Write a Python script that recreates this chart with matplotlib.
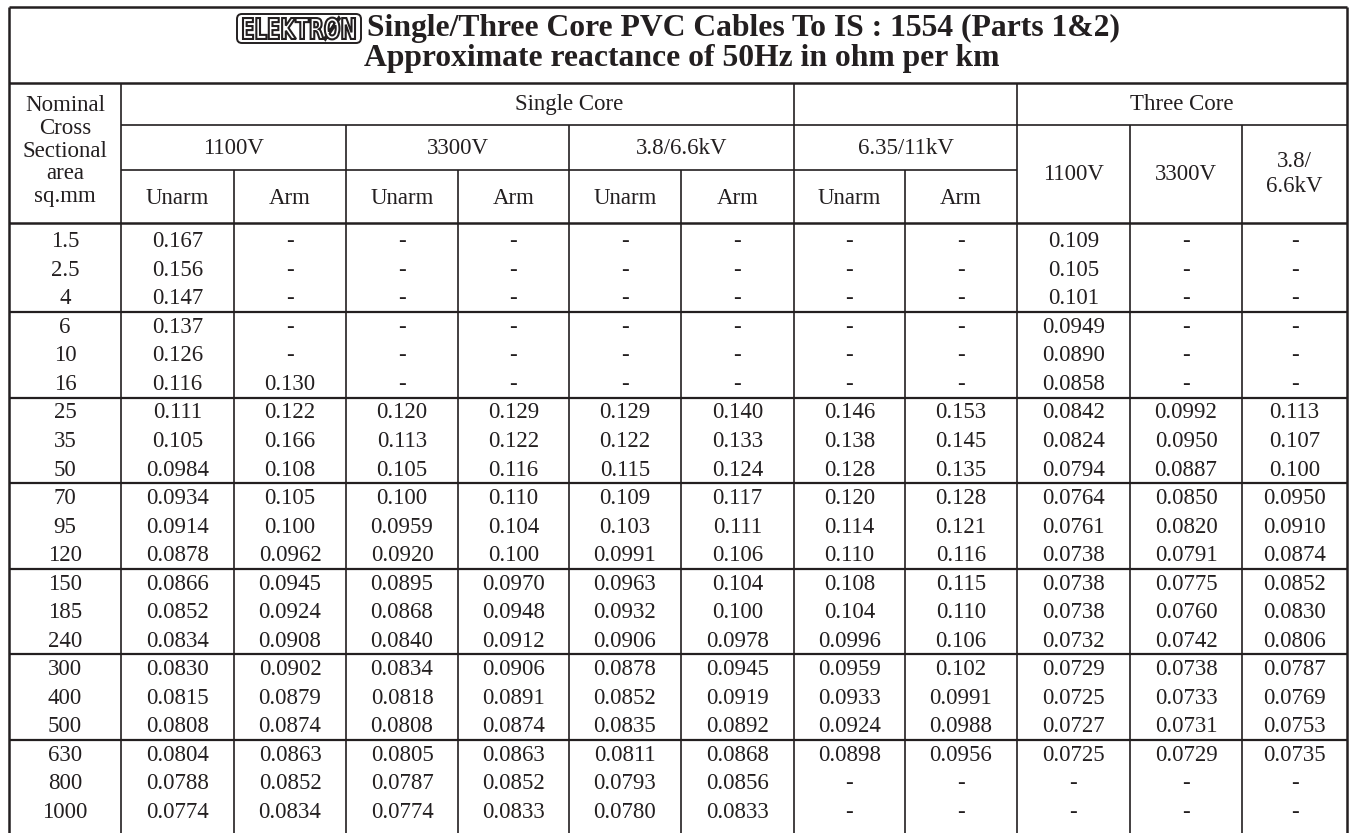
import matplotlib
matplotlib.use("Agg")
import matplotlib.pyplot as plt
from matplotlib.patches import FancyBboxPatch, PathPatch
from matplotlib.textpath import TextPath
from matplotlib.font_manager import FontProperties
from matplotlib.transforms import Affine2D

# table data (strings keep the printed trailing zeros)
areas = ["1.5", "2.5", "4", "6", "10", "16", "25", "35", "50", "70", "95", "120",
         "150", "185", "240", "300", "400", "500", "630", "800", "1000"]

sc_1100_unarm = ["0.167", "0.156", "0.147", "0.137", "0.126", "0.116", "0.111",
                 "0.105", "0.0984", "0.0934", "0.0914", "0.0878", "0.0866",
                 "0.0852", "0.0834", "0.0830", "0.0815", "0.0808", "0.0804",
                 "0.0788", "0.0774"]
sc_1100_arm = ["-", "-", "-", "-", "-", "0.130", "0.122", "0.166", "0.108",
               "0.105", "0.100", "0.0962", "0.0945", "0.0924", "0.0908",
               "0.0902", "0.0879", "0.0874", "0.0863", "0.0852", "0.0834"]
sc_3300_unarm = ["-", "-", "-", "-", "-", "-", "0.120", "0.113", "0.105",
                 "0.100", "0.0959", "0.0920", "0.0895", "0.0868", "0.0840",
                 "0.0834", "0.0818", "0.0808", "0.0805", "0.0787", "0.0774"]
sc_3300_arm = ["-", "-", "-", "-", "-", "-", "0.129", "0.122", "0.116",
               "0.110", "0.104", "0.100", "0.0970", "0.0948", "0.0912",
               "0.0906", "0.0891", "0.0874", "0.0863", "0.0852", "0.0833"]
sc_66_unarm = ["-", "-", "-", "-", "-", "-", "0.129", "0.122", "0.115",
               "0.109", "0.103", "0.0991", "0.0963", "0.0932", "0.0906",
               "0.0878", "0.0852", "0.0835", "0.0811", "0.0793", "0.0780"]
sc_66_arm = ["-", "-", "-", "-", "-", "-", "0.140", "0.133", "0.124",
             "0.117", "0.111", "0.106", "0.104", "0.100", "0.0978",
             "0.0945", "0.0919", "0.0892", "0.0868", "0.0856", "0.0833"]
sc_11_unarm = ["-", "-", "-", "-", "-", "-", "0.146", "0.138", "0.128",
               "0.120", "0.114", "0.110", "0.108", "0.104", "0.0996",
               "0.0959", "0.0933", "0.0924", "0.0898", "-", "-"]
sc_11_arm = ["-", "-", "-", "-", "-", "-", "0.153", "0.145", "0.135",
             "0.128", "0.121", "0.116", "0.115", "0.110", "0.106",
             "0.102", "0.0991", "0.0988", "0.0956", "-", "-"]
tc_1100 = ["0.109", "0.105", "0.101", "0.0949", "0.0890", "0.0858", "0.0842",
           "0.0824", "0.0794", "0.0764", "0.0761", "0.0738", "0.0738",
           "0.0738", "0.0732", "0.0729", "0.0725", "0.0727", "0.0725", "-", "-"]
tc_3300 = ["-", "-", "-", "-", "-", "-", "0.0992", "0.0950", "0.0887",
           "0.0850", "0.0820", "0.0791", "0.0775", "0.0760", "0.0742",
           "0.0738", "0.0733", "0.0731", "0.0729", "-", "-"]
tc_66 = ["-", "-", "-", "-", "-", "-", "0.113", "0.107", "0.100",
         "0.0950", "0.0910", "0.0874", "0.0852", "0.0830", "0.0806",
         "0.0787", "0.0769", "0.0753", "0.0735", "-", "-"]

columns = [areas, sc_1100_unarm, sc_1100_arm, sc_3300_unarm, sc_3300_arm,
           sc_66_unarm, sc_66_arm, sc_11_unarm, sc_11_arm,
           tc_1100, tc_3300, tc_66]

voltage_groups = ["1100V", "3300V", "3.8/6.6kV", "6.35/11kV"]
three_core_labels = ["1100V", "3300V", "3.8/\n6.6kV"]
title_1 = "Single/Three Core PVC Cables To IS : 1554 (Parts 1&2)"
title_2 = "Approximate reactance of 50Hz in ohm per km"

INK = "#231f20"
SERIF = ["Liberation Serif", "DejaVu Serif"]

# layout in pixels (y grows downwards)
x_edges = [9, 121, 234, 346, 458, 569, 681, 794, 905, 1017, 1130, 1242, 1347]
y_top, y_title, y_h1, y_h2, y_head = 7, 83, 125, 170, 223
row0, row_h = 226.5, 28.53

fig = plt.figure(figsize=(13.54, 8.33), dpi=100)
ax = fig.add_axes([0, 0, 1, 1])
ax.set_xlim(0, 1354)
ax.set_ylim(833, 0)
ax.axis("off")


def hline(y, x0, x1, lw=1.2):
    ax.plot([x0, x1], [y, y], color=INK, lw=lw, solid_capstyle="butt")


def vline(x, y0, y1, lw=1.2):
    ax.plot([x, x], [y0, y1], color=INK, lw=lw, solid_capstyle="butt")


def cell_text(x, y, s, size=16.5, **kw):
    ax.text(x, y, s, ha="center", va="center", fontsize=size,
            family=SERIF, color=INK, **kw)


# outer frame and title separator
hline(y_top, x_edges[0], x_edges[-1], lw=1.8)
vline(x_edges[0], y_top, 833, lw=1.8)
vline(x_edges[-1], y_top, 833, lw=1.8)
hline(y_title, x_edges[0], x_edges[-1], lw=1.8)

# header lines
hline(y_h1, x_edges[1], x_edges[-1])
hline(y_h2, x_edges[1], x_edges[9])
hline(y_head, x_edges[0], x_edges[-1], lw=1.8)
for i in (1, 7, 9):
    vline(x_edges[i], y_title, 833)
for i in (3, 5, 10, 11):
    vline(x_edges[i], y_h1, 833)
for i in (2, 4, 6, 8):
    vline(x_edges[i], y_h2, 833)

# group separators every three rows
n = len(areas)
for g in range(3, n, 3):
    hline(row0 + g * row_h, x_edges[0], x_edges[-1], lw=1.6)

# header texts
cell_text((x_edges[0] + x_edges[1]) / 2, 151,
          "Nominal\nCross\nSectional\narea\nsq.mm", linespacing=1.1)
cell_text((x_edges[1] + x_edges[9]) / 2, 104, "Single Core")
cell_text((x_edges[9] + x_edges[-1]) / 2, 104, "Three Core")
for k, lab in enumerate(voltage_groups):
    xa, xb = x_edges[1 + 2 * k], x_edges[3 + 2 * k]
    cell_text((xa + xb) / 2, 148, lab)
    cell_text((xa + x_edges[2 + 2 * k]) / 2, 198, "Unarm")
    cell_text((x_edges[2 + 2 * k] + xb) / 2, 198, "Arm")
for k, lab in enumerate(three_core_labels):
    cell_text((x_edges[9 + k] + x_edges[10 + k]) / 2, 174, lab, linespacing=1.2)

# body
for c, col in enumerate(columns):
    xc = (x_edges[c] + x_edges[c + 1]) / 2
    for r, val in enumerate(col):
        cell_text(xc, row0 + (r + 0.5) * row_h + 1, val)

# title
ax.text(367, 28, title_1, ha="left", va="center", fontsize=22.8,
        fontweight="bold", family=SERIF, color=INK)
ax.text(682, 58, title_2, ha="center", va="center", fontsize=22.8,
        fontweight="bold", family=SERIF, color=INK)

# ELEKTRON logo: rounded frame with outlined lettering
ax.add_patch(FancyBboxPatch((237, 14), 124, 29,
                            boxstyle="round,pad=0,rounding_size=5",
                            fc="white", ec=INK, lw=1.4))
tp = TextPath((0, 0), "ELEKTR\u00d8N", size=1,
              prop=FontProperties(family="DejaVu Sans", weight="bold"))
ext = tp.get_extents()
sx = 112 / ext.width
sy = 23 / ext.height
logo = Affine2D().translate(-ext.x0, -ext.y0).scale(sx, -sy).translate(243, 40)
ax.add_patch(PathPatch(logo.transform_path(tp), fc="white", ec=INK, lw=1.5))

fig.savefig("out.png", dpi=100)
